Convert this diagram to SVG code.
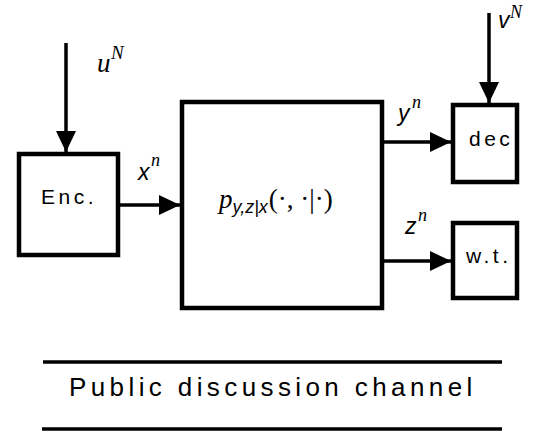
<svg xmlns="http://www.w3.org/2000/svg" width="534" height="434" viewBox="0 0 534 434">
<style>
.box{fill:#fff;stroke:#000;stroke-width:4.5}
.conn{fill:none;stroke:#000;stroke-width:3.5}
.lbl{font-family:"Liberation Sans",Arial,sans-serif;font-size:21px;letter-spacing:3.5px;fill:#000}
.mi{font-family:"Liberation Serif","Times New Roman",serif;font-style:italic;fill:#000}
.si{font-family:"Liberation Sans",Arial,sans-serif;font-style:italic;fill:#000}
.rm{font-family:"Liberation Serif","Times New Roman",serif;fill:#000}
</style>
<defs>
<marker id="ah" markerUnits="userSpaceOnUse" markerWidth="22" markerHeight="20" refX="21" refY="10" orient="auto">
<path d="M0,0 L21,10 L0,20 z" fill="#000"/>
</marker>
</defs>
<rect width="534" height="434" fill="#fff"/>
<g id="connectors">
<line class="conn" x1="66" y1="43" x2="66" y2="152" marker-end="url(#ah)"/>
<line class="conn" x1="489" y1="13" x2="489" y2="103" marker-end="url(#ah)"/>
<line class="conn" x1="118" y1="205" x2="180" y2="205" marker-end="url(#ah)"/>
<line class="conn" x1="382" y1="142" x2="451" y2="142" marker-end="url(#ah)"/>
<line class="conn" x1="382" y1="261" x2="451" y2="261" marker-end="url(#ah)"/>
</g>
<g id="labels">
<text class="mi" x="97" y="72" font-size="27">u</text><text class="mi" x="111" y="59" font-size="19">N</text>
<text class="si" x="138" y="180" font-size="23">x</text><text class="mi" x="151" y="166" font-size="18">n</text>
<text class="si" x="398" y="121" font-size="23">y</text><text class="mi" x="412" y="108" font-size="18">n</text>
<text class="si" x="405" y="234" font-size="23">z</text><text class="mi" x="418" y="221" font-size="18">n</text>
<text class="si" x="498" y="28" font-size="23">v</text><text class="mi" x="510" y="18" font-size="18">N</text>
</g>
<g id="enc">
<rect class="box" x="19" y="154" width="99" height="101"/>
<text class="lbl" x="41" y="204">Enc.</text>
</g>
<g id="channel">
<rect class="box" x="182" y="102" width="200" height="206"/>
<text x="219" y="208"><tspan class="mi" font-size="27">p</tspan><tspan class="si" font-size="18" dy="5">y,z|x</tspan><tspan class="rm" font-size="27" dy="-5" dx="1">(·, ·|·)</tspan></text>
</g>
<g id="dec">
<rect class="box" x="453" y="105" width="64" height="77"/>
<text class="lbl" x="469" y="146">dec</text>
</g>
<g id="wt">
<rect class="box" x="453" y="223" width="64" height="75"/>
<text class="lbl" x="466" y="263">w.t.</text>
</g>
<g id="public">
<line x1="43" y1="362" x2="502" y2="362" stroke="#000" stroke-width="3.5"/>
<line x1="42" y1="429" x2="502" y2="429" stroke="#000" stroke-width="3.5"/>
<text x="69" y="396" font-family="'Liberation Sans',Arial,sans-serif" font-size="26" letter-spacing="4.4">Public discussion channel</text>
</g>
</svg>
